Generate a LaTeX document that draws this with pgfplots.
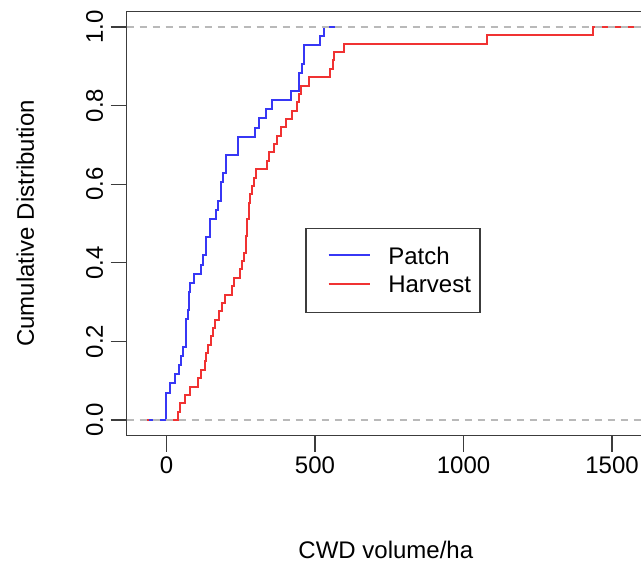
\documentclass[border=0pt]{standalone}
\usepackage{fontspec}
\setmainfont{Liberation Sans}
\usepackage{pgfplots}
\usepackage{pgfplotstable}
\pgfplotsset{compat=1.18}
\definecolor{pblue}{RGB}{55,55,245}
\definecolor{hred}{RGB}{240,50,50}
\definecolor{zline}{RGB}{185,185,185}
\definecolor{frame}{RGB}{60,60,60}

% Patch ECDF (n = 43): jump position and cumulative proportion
\pgfplotstableread{
x y
-60 0
0 0.0698
11 0.0930
27 0.1163
41.5 0.1395
49.4 0.1628
56 0.1860
64 0.2326
67 0.2558
71.7 0.2791
75 0.3256
78.5 0.3488
94 0.3721
116.6 0.3953
123.4 0.4186
134.5 0.4651
148 0.5116
168 0.5349
172.7 0.5581
184 0.6047
190.6 0.6279
201.8 0.6744
240 0.7209
299.4 0.7442
310.6 0.7674
336.4 0.7907
355.5 0.8140
419.3 0.8372
445 0.8837
456.4 0.9070
464.2 0.9535
515.7 0.9767
529 1.0
591 1.0
}\patchtab

% Harvest ECDF (n = 47)
\pgfplotstableread{
x y
-74 0
38 0.0213
44.7 0.0426
61.6 0.0638
80.7 0.0851
105 0.1064
117.7 0.1277
128 0.1489
134.5 0.1702
139 0.1915
150 0.2128
157 0.2340
162.5 0.2553
178 0.2766
187 0.2979
196 0.3191
221 0.3404
228.7 0.3617
246.6 0.3830
254.6 0.4043
262 0.4255
268 0.4681
271.4 0.5106
277 0.5532
282.5 0.5745
288 0.5957
296 0.6170
302.7 0.6383
338.7 0.6596
346.5 0.6809
361 0.7021
372.3 0.7234
386.8 0.7447
402.6 0.7660
422.8 0.7872
439.6 0.8085
447.4 0.8298
453 0.8511
481 0.8723
549.4 0.8936
560.7 0.9149
565 0.9362
596.4 0.9574
1080.7 0.9787
1435 1.0
1611 1.0
}\harvesttab

\begin{document}
\begin{tikzpicture}
\begin{axis}[
  at={(0,0)}, anchor=south west,
  scale only axis, width=518.3pt, height=424.4pt,
  xmin=-134, xmax=1611, ymin=-0.04, ymax=1.04,
  axis line style={frame, line width=1.3pt},
  xtick={0,500,1000,1500}, xticklabels={0,500,1000,1500},
  ytick={0,0.2,0.4,0.6,0.8,1}, yticklabels={0.0,0.2,0.4,0.6,0.8,1.0},
  xtick pos=bottom, ytick pos=left,
  tick align=outside, major tick length=16pt,
  tick style={frame, line width=1.3pt},
  tick label style={font=\fontsize{24}{28}\selectfont},
  xticklabel style={inner sep=0pt, anchor=base, yshift=-22pt},
  yticklabel style={inner sep=0pt, rotate=90, anchor=base, yshift=7.7pt},
  xlabel={CWD volume/ha},
  ylabel={Cumulative Distribution},
  label style={font=\fontsize{24}{28}\selectfont},
  xlabel style={at={(axis description cs:0.5,0)}, anchor=base, yshift=-122.3pt, inner sep=0pt},
  ylabel style={at={(axis description cs:0,0.5)}, anchor=base, yshift=92.7pt, inner sep=0pt},
  legend cell align=left,
  reverse legend,
  legend image code/.code={\path (0pt,0pt); \draw[#1, line width=2pt] (12.7pt,1.6pt) -- (54.3pt,1.6pt);},
  legend style={at={(axis cs:467.5,0.4885)}, anchor=north west, draw=frame, line width=1.3pt, fill=white,
    inner xsep=9pt, inner ysep=18pt, row sep=10.8pt, font=\fontsize{24}{28}\selectfont,
    nodes={inner sep=0pt},
    /tikz/every odd column/.append style={column sep=17pt}},
]
\addplot[hred, line width=2pt, const plot mark left] table[x=x, y=y] {\harvesttab};
\addlegendentry{Harvest}
\addplot[pblue, line width=2pt, const plot mark left] table[x=x, y=y] {\patchtab};
\addlegendentry{Patch}
\addplot[zline, line width=1.3pt, dash pattern=on 7pt off 6pt, forget plot] coordinates {(-134,0) (1611,0)};
\addplot[zline, line width=1.3pt, dash pattern=on 7pt off 6pt, forget plot] coordinates {(-134,1) (1611,1)};
\end{axis}
\pgfresetboundingbox
\useasboundingbox (-126.7pt,-127.3pt) rectangle (514.3pt,435.7pt);
\end{tikzpicture}
\end{document}
